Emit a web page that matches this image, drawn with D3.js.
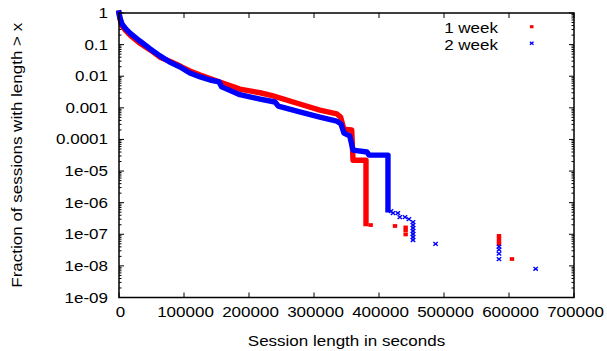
<!DOCTYPE html>
<html>
<head>
<meta charset="utf-8">
<script src="https://cdn.jsdelivr.net/npm/d3@7"></script>
<style>
  html, body { margin: 0; padding: 0; background: #fff; }
  svg { display: block; }
  text { font-family: "Liberation Sans", Arial, Helvetica, sans-serif; fill: #000; }
</style>
</head>
<body>
<svg id="chart" width="607" height="351"></svg>
<script>
// ---------------- data ----------------
const seriesNames = ["1 week", "2 week"];

const xTickValues = [0, 100000, 200000, 300000, 400000, 500000, 600000, 700000];
const xTickLabels = ["0", "100000", "200000", "300000", "400000", "500000", "600000", "700000"];
const yTickValues = [1, 0.1, 0.01, 0.001, 0.0001, 1e-5, 1e-6, 1e-7, 1e-8, 1e-9];
const yTickLabels = ["1", "0.1", "0.01", "0.001", "0.0001", "1e-05", "1e-06", "1e-07", "1e-08", "1e-09"];

// 1 week: dense part (drawn as a continuous band of markers)
const week1CurveX = [0, 1500, 4600, 10800, 17000, 32000, 48000, 63000, 78000, 94000, 109000, 125000,
  155000, 186000, 217000, 237000, 278000, 309000, 335000, 341000, 346000, 358000, 360000, 380000, 380000];
const week1CurveY = [1, 0.65, 0.39, 0.27, 0.20, 0.11, 0.068, 0.040, 0.030, 0.021, 0.0146, 0.0109,
  0.0066, 0.0039, 0.0030, 0.0024, 0.00132, 0.00085, 0.00064, 0.00051, 0.00021, 0.00020, 2.2e-5, 2.2e-5, 2.2e-7];
// 1 week: sparse tail points
const week1PointX = [387200, 424600, 441000, 441000, 441000, 584600, 584600, 584600, 584600, 604600];
const week1PointY = [1.96e-7, 1.83e-7, 1.65e-7, 1.32e-7, 9.9e-8, 8.9e-8, 7.4e-8, 6.0e-8, 4.9e-8, 1.65e-8];

// 2 week: dense part
const week2CurveX = [0, 1500, 4600, 10800, 17000, 32000, 48000, 63000, 78000, 94000, 109000, 125000,
  140000, 154000, 158000, 186000, 217000, 240000, 245000, 278000, 309000, 335000, 341500, 346000,
  355000, 360000, 381500, 384600, 413800, 413800];
const week2CurveY = [1, 0.70, 0.45, 0.31, 0.23, 0.13, 0.073, 0.044, 0.028, 0.0196, 0.0127, 0.0095,
  0.0076, 0.0066, 0.0046, 0.0026, 0.0019, 0.00153, 0.00114, 0.00074, 0.00051, 0.00038, 0.00031, 0.00016,
  0.00013, 4.6e-5, 4.0e-5, 3.2e-5, 3.2e-5, 5.9e-7];
// 2 week: sparse tail points
const week2PointX = [418500, 421500, 429000, 432000, 440000, 446000, 452300, 452300, 452300, 452300,
  452300, 452300, 452300, 487000, 584600, 584600, 584600, 584600, 641000];
const week2PointY = [5.4e-7, 4.7e-7, 4.7e-7, 3.5e-7, 3.5e-7, 3.0e-7, 2.44e-7, 1.96e-7, 1.58e-7, 1.27e-7,
  1.02e-7, 8.2e-8, 6.6e-8, 5.0e-8, 4.07e-8, 3.25e-8, 2.44e-8, 1.63e-8, 8.1e-9];

// ---------------- layout ----------------
const svg = d3.select("#chart");
const plot = { left: 119, right: 574, top: 13, bottom: 297.5 };
const x = d3.scaleLinear().domain([0, 700000]).range([plot.left, plot.right]);
const y = d3.scaleLog().domain([1e-9, 1]).range([plot.bottom, plot.top]);
const FS = 17, SY = 0.88;

function label(g, tx, ty, txt, anchor, rot) {
  return g.append("text")
    .attr("transform", `translate(${tx},${ty})` + (rot ? ` rotate(${rot})` : "") + ` scale(1,${SY})`)
    .attr("text-anchor", anchor)
    .attr("font-size", FS)
    .text(txt);
}

// minor/major ticks
const ticksG = svg.append("g").attr("stroke", "#000").attr("stroke-width", 1);
xTickValues.forEach(v => {
  const px = x(v);
  ticksG.append("line").attr("x1", px).attr("x2", px).attr("y1", plot.bottom).attr("y2", plot.bottom - 5);
  ticksG.append("line").attr("x1", px).attr("x2", px).attr("y1", plot.top).attr("y2", plot.top + 5);
});
for (let e = -9; e <= 0; e++) {
  for (let m = 1; m <= 9; m++) {
    const v = m * Math.pow(10, e);
    if (v > 1 + 1e-12) continue;
    const py = y(v);
    const len = m === 1 ? 5 : 2.5;
    ticksG.append("line").attr("x1", plot.left).attr("x2", plot.left + len).attr("y1", py).attr("y2", py);
    ticksG.append("line").attr("x1", plot.right).attr("x2", plot.right - len).attr("y1", py).attr("y2", py);
  }
}

// tick labels
const labG = svg.append("g");
xTickValues.forEach((v, i) => label(labG, x(v) + 1.5, 317, xTickLabels[i], "middle"));
yTickValues.forEach((v, i) => label(labG, 108, y(v) + 5, yTickLabels[i], "end"));

// axis titles
label(labG, (plot.left + plot.right) / 2, 346, "Session length in seconds", "middle");
label(labG, 22, (plot.top + plot.bottom) / 2, "Fraction of sessions with length > x", "middle", -90);

// data
const colors = ["#ff0000", "#0000ff"];
const curves = [
  { xs: week1CurveX, ys: week1CurveY, px: week1PointX, py: week1PointY, c: colors[0], m: "square" },
  { xs: week2CurveX, ys: week2CurveY, px: week2PointX, py: week2PointY, c: colors[1], m: "cross" }
];
const line = d3.line().x(d => x(d[0])).y(d => y(d[1]));

function marker(g, cx, cy, type, color, s) {
  if (type === "square") {
    g.append("rect").attr("x", cx - s).attr("y", cy - s * 0.85).attr("width", 2 * s).attr("height", 1.7 * s)
      .attr("fill", color);
  } else {
    g.append("path").attr("d", `M${cx - s},${cy - s * 0.85}L${cx + s},${cy + s * 0.85}M${cx - s},${cy + s * 0.85}L${cx + s},${cy - s * 0.85}`)
      .attr("stroke", color).attr("stroke-width", 1.4).attr("fill", "none");
  }
}

curves.forEach(s => {
  const g = svg.append("g");
  const pts = s.xs.map((v, i) => [v, s.ys[i]]);
  g.append("path").attr("d", line(pts)).attr("fill", "none").attr("stroke", s.c)
    .attr("stroke-width", 5.4).attr("stroke-linejoin", "round").attr("stroke-linecap", "square");
  s.px.forEach((v, i) => marker(g, x(v), y(s.py[i]), s.m, s.c, 2.2));
});

// frame
svg.append("rect").attr("x", plot.left).attr("y", plot.top)
  .attr("width", plot.right - plot.left).attr("height", plot.bottom - plot.top)
  .attr("fill", "none").attr("stroke", "#000").attr("stroke-width", 1.5);

// legend
const leg = svg.append("g");
seriesNames.forEach((n, i) => {
  label(leg, 498, 33 + i * 17, n, "end");
  marker(leg, 531.7, 26.7 + i * 16.6, curves[i].m, curves[i].c, 1.8);
});
</script>
</body>
</html>
